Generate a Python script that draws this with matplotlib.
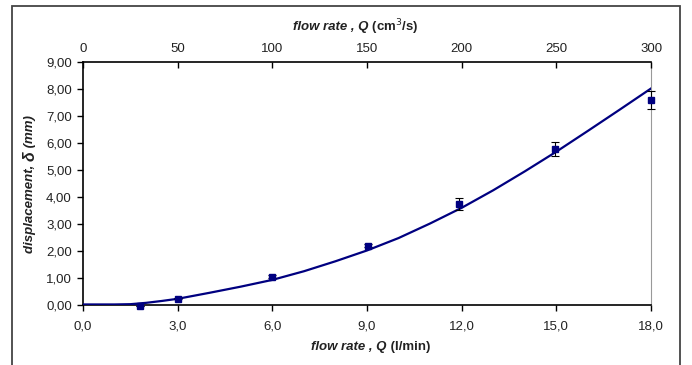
import numpy as np
import matplotlib.pyplot as plt
from matplotlib.patches import Rectangle
from matplotlib.ticker import FuncFormatter, MultipleLocator

plt.rcParams['font.family'] = ['Liberation Sans', 'DejaVu Sans']

# measured points (l/min, mm) with error bars
flow = [1.8, 3.0, 6.0, 9.04, 11.92, 14.96, 18.0]
disp = [-0.02, 0.23, 1.05, 2.19, 3.74, 5.78, 7.59]
err = [0.0, 0.02, 0.05, 0.06, 0.22, 0.26, 0.32]

# fitted curve
fit_x = [0, 1, 1.5, 2, 2.5, 3, 4, 5, 6, 7, 8, 9, 10, 11, 12, 13, 14, 15, 16, 17, 18]
fit_y = [0.02, 0.02, 0.03, 0.08, 0.15, 0.23, 0.45, 0.68, 0.93, 1.25, 1.62, 2.02,
         2.48, 3.02, 3.6, 4.25, 4.95, 5.68, 6.45, 7.23, 8.02]

x_ticks = [0, 3, 6, 9, 12, 15, 18]
top_ticks = [0, 50, 100, 150, 200, 250, 300]

fs = 9.5
txt = '#222222'

fig = plt.figure(figsize=(6.92, 3.65), dpi=100)
ax = fig.add_axes([0.12, 0.1644, 0.8208, 0.6657])

# outer frame
fig.patches.append(Rectangle((0.0173, -0.1), 0.965, 1.0836, transform=fig.transFigure,
                             fill=False, edgecolor='#444444', linewidth=1.3))

ax.plot(fit_x, fit_y, color='#000080', linewidth=1.6, zorder=3)
ax.errorbar(flow, disp, yerr=err, fmt='s', color='#000080', markersize=4,
            ecolor='black', elinewidth=0.8, capsize=3, capthick=0.8, zorder=4,
            clip_on=False)

ax.set_xlim(0, 18)
ax.set_ylim(0, 9)
ax.set_xticks(x_ticks)
ax.yaxis.set_major_locator(MultipleLocator(1))
ax.xaxis.set_major_formatter(FuncFormatter(lambda v, p: f'{v:.1f}'.replace('.', ',')))
ax.yaxis.set_major_formatter(FuncFormatter(lambda v, p: f'{v:.2f}'.replace('.', ',')))
ax.tick_params(axis='y', direction='out', length=4, width=1, labelsize=fs,
               labelcolor=txt, pad=4)
ax.tick_params(axis='x', direction='out', length=4, width=1, labelsize=fs,
               labelcolor=txt, pad=7)
ax.spines['right'].set_color('#999999')
ax.spines['right'].set_linewidth(0.8)
for s in ['left', 'bottom', 'top']:
    ax.spines[s].set_linewidth(1.2)

top = ax.twiny()
top.set_xlim(0, 300)
top.set_xticks(top_ticks)
top.tick_params(axis='x', direction='in', length=4, width=1, labelsize=fs,
                labelcolor=txt, pad=5)
for s in top.spines.values():
    s.set_visible(False)

# axis titles with mixed styles
t1 = fig.text(0.45, 0.049, 'flow rate , Q', fontsize=fs, fontweight='bold',
              fontstyle='italic', color=txt, ha='left', va='center')
ax.annotate(' (l/min)', xy=(1, 0.5), xycoords=t1, fontsize=fs, fontweight='bold',
            color=txt, ha='left', va='center')

t2 = fig.text(0.423, 0.926, 'flow rate , Q', fontsize=fs, fontweight='bold',
              fontstyle='italic', color=txt, ha='left', va='center')
ax.annotate(' (cm$^3$/s)', xy=(1, 0.5), xycoords=t2, fontsize=fs, fontweight='bold',
            color=txt, ha='left', va='center')

t3 = fig.text(0.043, 0.307, 'displacement, ', fontsize=fs, fontstyle='italic',
              fontweight='bold', color=txt, rotation=90, ha='center', va='bottom')
t4 = ax.annotate('δ', xy=(0.5, 1), xycoords=t3, fontsize=fs + 2, fontweight='bold',
                 fontstyle='italic', color=txt, rotation=90, ha='center', va='bottom')
ax.annotate(' (mm)', xy=(0.5, 1), xycoords=t4, fontsize=fs, fontstyle='italic',
            fontweight='bold', color=txt, rotation=90, ha='center', va='bottom')

fig.savefig('out.png', dpi=100)
